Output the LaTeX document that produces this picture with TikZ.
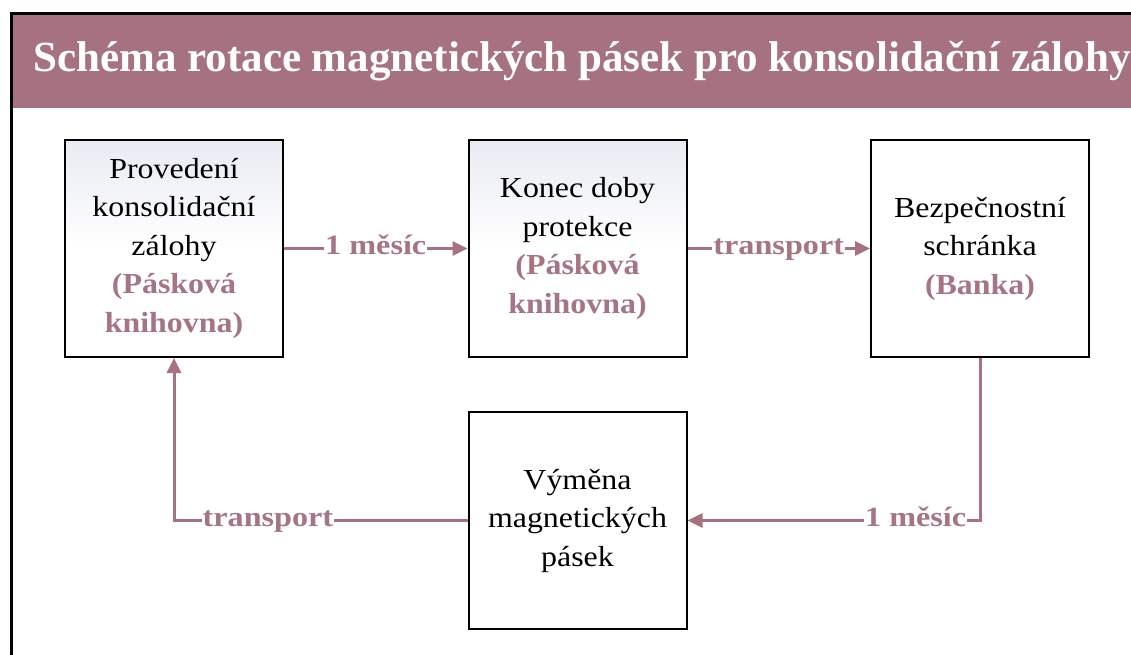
\documentclass[tikz,border=0pt]{standalone}
\usepackage{fontspec}
\setmainfont{Liberation Serif}
\newfontfamily\boxfont[FakeStretch=1.1]{Liberation Serif}
\newfontfamily\lblfont[FakeStretch=1.15]{Liberation Serif}
\usetikzlibrary{arrows.meta}
\definecolor{mauve}{HTML}{A6727F}
\definecolor{mauvetxt}{HTML}{A57582}
\definecolor{boxtop}{HTML}{E9EBF3}
\tikzset{
  stepbox/.style={draw=black, line width=2pt, minimum width=218pt, minimum height=217pt,
    align=center, inner sep=0pt, font=\boxfont\fontsize{29}{38.5}\selectfont, text=black},
  shadedbox/.style={stepbox, top color=boxtop, bottom color=white, middle color=white},
  conn/.style={draw=mauve, line width=3pt, -{Triangle[length=15pt,width=14pt]}},
  lbl/.style={fill=white, inner xsep=1pt, inner ysep=0pt, text=mauvetxt,
    text height=19pt, text depth=7pt,
    font=\lblfont\fontsize{28}{30}\selectfont\bfseries},
}
\newcommand{\hl}[1]{{\bfseries\color{mauvetxt}#1}}
\begin{document}
\begin{tikzpicture}[x=1pt,y=-1pt]
\useasboundingbox (0,0) rectangle (1131,655);
\clip (0,0) rectangle (1131,655);
% frame and title bar
\fill[mauve] (11,14) rectangle (1140,108);
\draw[black, line width=3pt] (11,680) -- (11,14) -- (1140,14);
\node[text=white, font=\fontsize{43}{48}\selectfont\bfseries] (title) at (582,61)
  {Schéma rotace magnetických pásek pro konsolidační zálohy};
% boxes
\node[shadedbox] (p) at (174,248.5) {Provedení\\konsolidační\\zálohy\\\hl{(Pásková}\\\hl{knihovna)}};
\node[shadedbox] (k) at (577.5,248.5) {Konec doby\\protekce\\\hl{(Pásková}\\\hl{knihovna)}};
\node[stepbox] (b) at (980,248.5) {Bezpečnostní\\schránka\\\hl{(Banka)}};
\node[stepbox] (v) at (577.5,520.5) {Výměna\\magnetických\\pásek};
% connectors
\draw[conn] (p.east) -- node[lbl] {1 měsíc} (k.west);
\draw[conn] (k.east) -- node[lbl] {transport} (b.west);
\draw[conn] (b.south) |- node[lbl, pos=0.61] {1 měsíc} (v.east);
\draw[conn] (v.west) -| node[lbl, pos=0.34] {transport} (p.south);
\end{tikzpicture}
\end{document}
